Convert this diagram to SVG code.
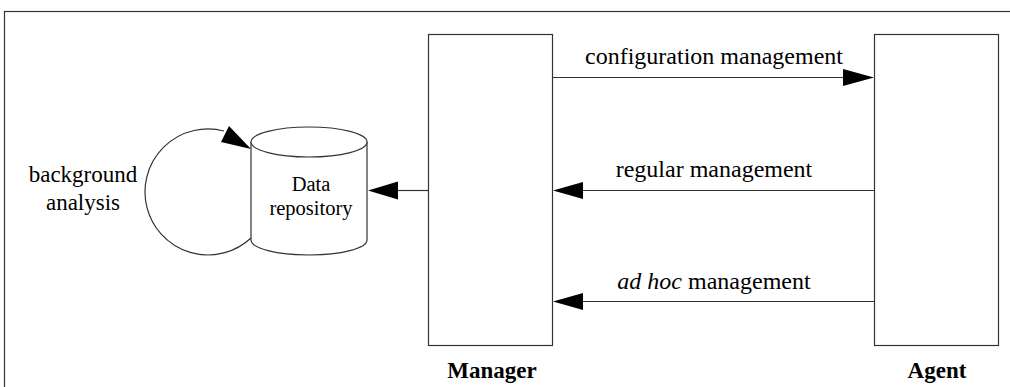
<svg xmlns="http://www.w3.org/2000/svg" width="1010" height="387" viewBox="0 0 1010 387">
  <style>
    .frame { fill: none; stroke: #333; stroke-width: 1.2; }
    .box { fill: #fff; stroke: #333; stroke-width: 1.2; }
    .line { fill: none; stroke: #333; stroke-width: 1.2; }
    .head { fill: #000; stroke: none; }
    .lbl { font-family: "Liberation Serif", "Times New Roman", serif; font-size: 23px; fill: #000; text-anchor: middle; }
    .conn { font-size: 24px; }
    .small { font-size: 20.5px; }
    .bold { font-weight: bold; }
  </style>

  <rect width="1010" height="387" fill="#fff"/>
  <!-- outer frame, continues past the right and bottom edges -->
  <rect class="frame" x="4.5" y="11.5" width="1020" height="400"/>

  <g id="manager">
    <rect class="box" x="428.5" y="34.5" width="124" height="311"/>
    <text class="lbl bold" x="492" y="378">Manager</text>
  </g>

  <g id="agent">
    <rect class="box" x="874.5" y="34.5" width="124" height="311"/>
    <text class="lbl bold" x="937" y="378">Agent</text>
  </g>

  <g id="data-repository">
    <path class="box" d="M251,142 L251,240 A58,15 0 0 0 367,240 L367,142"/>
    <ellipse class="box" cx="309" cy="142" rx="58" ry="15"/>
    <text class="lbl small" x="311" y="191">Data</text>
    <text class="lbl small" x="311" y="215">repository</text>
  </g>

  <g id="background-analysis">
    <text class="lbl" x="83" y="182">background</text>
    <text class="lbl" x="83" y="210">analysis</text>
  </g>

  <g id="connectors">
    <!-- configuration management: manager to agent -->
    <line class="line" x1="553" y1="77.5" x2="845" y2="77.5"/>
    <polygon class="head" points="874,77.5 843,69 843,86"/>
    <text class="lbl conn" x="714" y="64">configuration management</text>

    <!-- regular management: agent to manager -->
    <line class="line" x1="874" y1="190.5" x2="581" y2="190.5"/>
    <polygon class="head" points="553,190.5 583,182 583,199"/>
    <text class="lbl conn" x="714" y="177">regular management</text>

    <!-- ad hoc management: agent to manager -->
    <line class="line" x1="874" y1="301.5" x2="581" y2="301.5"/>
    <polygon class="head" points="553,301.5 583,293 583,310"/>
    <text class="lbl conn" x="714" y="289"><tspan font-style="italic">ad hoc</tspan> management</text>

    <!-- manager to data repository -->
    <line class="line" x1="428" y1="190.5" x2="396" y2="190.5"/>
    <polygon class="head" points="368,190.5 398,181.5 398,199.5"/>

    <!-- background analysis loop on the repository -->
    <path class="line" d="M224,131 A63,63 0 1 0 251,238"/>
    <polygon class="head" points="251,149 229,126 221,142"/>
  </g>
</svg>
